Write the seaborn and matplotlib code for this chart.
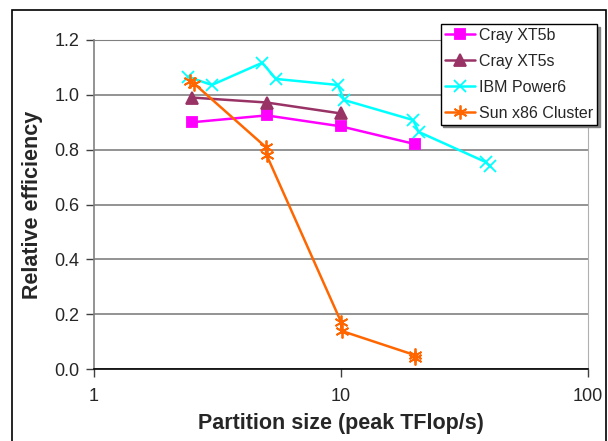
import numpy as np
import pandas as pd
import matplotlib
matplotlib.use("Agg")
import matplotlib.pyplot as plt
import matplotlib.patches as mpatches
import seaborn as sns

# partition size (peak TFlop/s) and relative efficiency
xt5b_x = [2.5, 5.0, 10.0, 20.0]
xt5b_y = [0.90, 0.925, 0.885, 0.82]

xt5s_x = [2.5, 5.0, 10.0]
xt5s_y = [0.99, 0.972, 0.932]

p6_x = [2.4, 3.0, 4.8, 5.45, 9.7, 10.3, 19.6, 20.6, 38.5, 40.0]
p6_y = [1.066, 1.036, 1.117, 1.058, 1.036, 0.981, 0.908, 0.865, 0.755, 0.74]

sun_x = [2.45, 2.55, 4.95, 5.0, 10.0, 10.05, 20.0, 20.0]
sun_y = [1.05, 1.04, 0.81, 0.78, 0.172, 0.139, 0.05, 0.04]

series = [
    ("Cray XT5b", xt5b_x, xt5b_y, "#FF00FF", "s", 7),
    ("Cray XT5s", xt5s_x, xt5s_y, "#993366", "^", 8),
    ("IBM Power6", p6_x, p6_y, "#00FFFF", "x", 9),
    ("Sun x86 Cluster", sun_x, sun_y, "#FF6600", (6, 2, 0), 10),
]

sns.set_style("white")
plt.rcParams["font.family"] = ["Liberation Sans", "DejaVu Sans"]

fig = plt.figure(figsize=(6.08, 4.41), dpi=100)
ax = fig.add_axes([94 / 608, 1 - 369 / 441, (588 - 94) / 608, (369 - 40) / 441])

for name, xs, ys, col, mk, ms in series:
    df = pd.DataFrame({"x": xs, "y": ys})
    sns.lineplot(data=df, x="x", y="y", ax=ax, sort=False, estimator=None,
                 color=col, marker=mk, markersize=ms, linewidth=1.8,
                 markeredgecolor=col, markeredgewidth=1.3, label=name)

ax.set_xscale("log")
ax.set_xlim(1, 100)
ax.set_ylim(0, 1.2)
ax.set_xticks([1, 10, 100])
ax.set_xticklabels(["1", "10", "100"])
ax.minorticks_off()
ax.set_yticks(np.arange(0, 1.21, 0.2))
ax.set_yticklabels([f"{v:.1f}" for v in np.arange(0, 1.21, 0.2)])

ax.yaxis.grid(True, color="#808080", linewidth=1.2)
ax.set_axisbelow(True)
ax.tick_params(axis="both", labelsize=13, length=6, width=1, color="#404040",
               direction="out", left=True, bottom=True)
ax.tick_params(axis="x", pad=7.5)
ax.tick_params(axis="y", pad=4.5)

for side in ["top", "left"]:
    ax.spines[side].set_color("#808080")
ax.spines["left"].set_linewidth(1.2)
ax.spines["bottom"].set_color("black")
ax.spines["bottom"].set_linewidth(1.2)
ax.spines["right"].set_color("#B0B0B0")

ax.set_xlabel("Partition size (peak TFlop/s)", fontsize=15.5, fontweight="bold",
              labelpad=6)
ax.set_ylabel("Relative efficiency", fontsize=15.5, fontweight="bold", labelpad=8)

leg = ax.legend(loc="upper right", bbox_to_anchor=(597 / 608, 1 - 24 / 441),
                bbox_transform=fig.transFigure, frameon=True, fancybox=False,
                shadow={"color": "#808080", "alpha": 1}, fontsize=11.5,
                handlelength=1.9, borderpad=0.25, labelspacing=0.68,
                handletextpad=0.25, borderaxespad=0)
leg.get_frame().set_edgecolor("black")
leg.get_frame().set_linewidth(1)

# chart-area border
fig.patches.append(mpatches.Rectangle((12 / 608, -0.1), (606 - 12) / 608,
                                      1.1 - 10 / 441, transform=fig.transFigure,
                                      fill=False, edgecolor="black", linewidth=1.2))

plt.savefig("out.png", dpi=100)
